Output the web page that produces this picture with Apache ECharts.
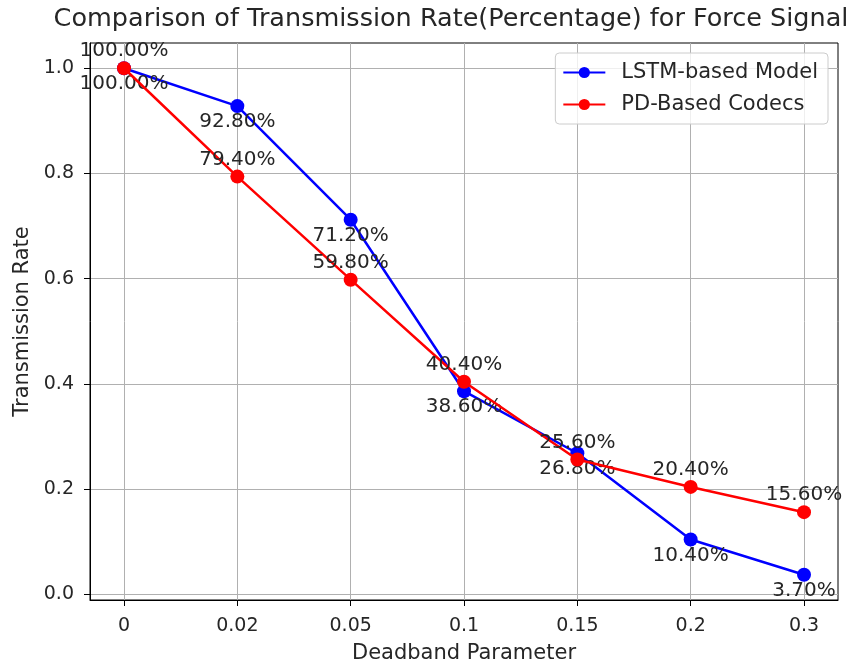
<!DOCTYPE html>
<html>
<head>
<meta charset="utf-8">
<script src="https://cdn.jsdelivr.net/npm/echarts@6/dist/echarts.min.js"></script>
<style>
  html, body { margin: 0; padding: 0; background: #fff; }
  #chart { width: 855px; height: 666px; }
</style>
</head>
<body>
<div id="chart"></div>
<script>
// Deadband parameter values shown as evenly spaced categories
const categories = ['0', '0.02', '0.05', '0.1', '0.15', '0.2', '0.3'];
// Transmission rate per deadband parameter
const lstmRate = [1.0, 0.928, 0.712, 0.386, 0.268, 0.104, 0.037];
const pdRate = [1.0, 0.794, 0.598, 0.404, 0.256, 0.204, 0.156];
// Y tick values
const yTicks = [0, 0.2, 0.4, 0.6, 0.8, 1.0];

const FONT = 'DejaVu Sans';
const TEXT = '#262626';
const xIdx = categories.map((c, i) => i);

const pct = p => (p.value[1] * 100).toFixed(2) + '%';

const chart = echarts.init(document.getElementById('chart'), null, { renderer: 'canvas' });
chart.setOption({
  animation: false,
  backgroundColor: '#fff',
  textStyle: { fontFamily: FONT },
  title: {
    text: 'Comparison of Transmission Rate(Percentage) for Force Signal',
    left: 446, top: 1, textAlign: 'center',
    textStyle: { fontFamily: FONT, fontSize: 25.5, fontWeight: 'normal', color: TEXT }
  },
  legend: {
    orient: 'vertical',
    right: 27, top: 53,
    itemWidth: 42, itemHeight: 14, itemGap: 11,
    padding: [9, 10, 9, 7],
    borderColor: '#cccccc', borderWidth: 1, borderRadius: 4,
    backgroundColor: 'rgba(255,255,255,0.8)',
    textStyle: { fontFamily: FONT, fontSize: 21, color: TEXT, padding: [0, 0, 0, 11] },
    data: ['LSTM-based Model', 'PD-Based Codecs']
  },
  grid: {
    left: 90, right: 17, top: 43, bottom: 66,
    outerBoundsMode: 'none', containLabel: false,
    show: true, borderColor: '#000', borderWidth: 1
  },
  xAxis: {
    type: 'value', min: -0.3, max: 6.3,
    name: 'Deadband Parameter', nameLocation: 'middle', nameGap: 43,
    nameTextStyle: { fontFamily: FONT, fontSize: 21, color: TEXT },
    axisLine: { show: true, onZero: false, lineStyle: { color: '#000', width: 1 } },
    axisTick: { show: true, inside: false, length: 6, customValues: xIdx, lineStyle: { color: '#000' } },
    axisLabel: {
      customValues: xIdx, margin: 17,
      fontFamily: FONT, fontSize: 19, color: TEXT,
      formatter: v => categories[Math.round(v)]
    },
    splitLine: { show: true, lineStyle: { color: '#b0b0b0', width: 1 } }
  },
  yAxis: {
    type: 'value', min: -0.011, max: 1.048,
    name: 'Transmission Rate', nameLocation: 'middle', nameGap: 56, nameRotate: 90,
    nameTextStyle: { fontFamily: FONT, fontSize: 21, color: TEXT },
    axisLine: { show: true, onZero: false, lineStyle: { color: '#000', width: 1 } },
    axisTick: { show: true, inside: false, length: 6, customValues: yTicks, lineStyle: { color: '#000' } },
    axisLabel: {
      customValues: yTicks, margin: 16,
      fontFamily: FONT, fontSize: 19, color: TEXT,
      formatter: v => v.toFixed(1)
    },
    splitLine: { show: true, lineStyle: { color: '#b0b0b0', width: 1 } }
  },
  series: [
    {
      name: 'LSTM-based Model', type: 'line',
      data: xIdx.map(i => [i, lstmRate[i]]),
      color: '#0000ff',
      lineStyle: { width: 2.5, color: '#0000ff' },
      symbol: 'circle', symbolSize: 14,
      itemStyle: { color: '#0000ff' },
      label: {
        show: true, position: 'bottom', distance: -1,
        fontFamily: FONT, fontSize: 20, color: TEXT, formatter: pct
      },
      z: 2
    },
    {
      name: 'PD-Based Codecs', type: 'line',
      data: xIdx.map(i => [i, pdRate[i]]),
      color: '#ff0000',
      lineStyle: { width: 2.5, color: '#ff0000' },
      symbol: 'circle', symbolSize: 14,
      itemStyle: { color: '#ff0000' },
      label: {
        show: true, position: 'top', distance: 0,
        fontFamily: FONT, fontSize: 20, color: TEXT, formatter: pct
      },
      z: 3
    }
  ]
});
</script>
</body>
</html>
